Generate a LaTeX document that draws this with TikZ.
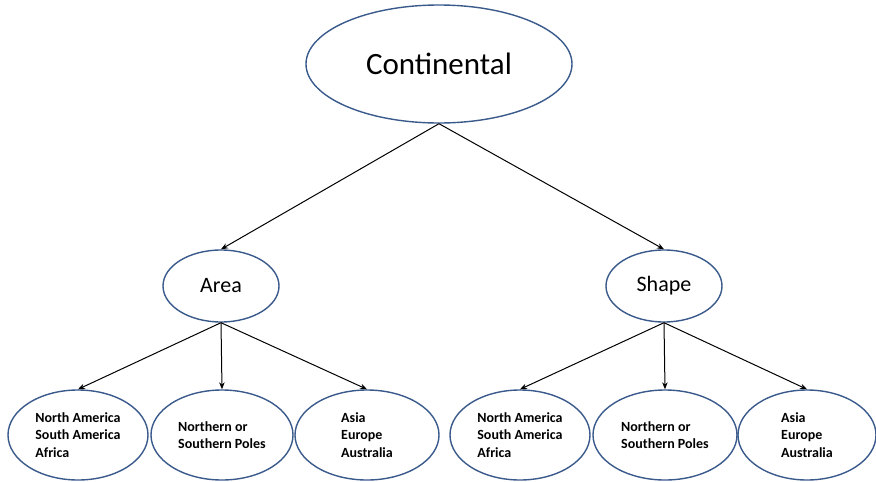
\documentclass[tikz,border=0pt]{standalone}
\usepackage{fontspec}
\setmainfont{Carlito}
\usetikzlibrary{shapes.geometric,arrows.meta}
\definecolor{rim}{HTML}{3A5A8C}
\tikzset{
  oval/.style={ellipse, draw=rim, line width=1.4pt, fill=white, inner sep=0pt},
  leaf/.style={oval, minimum width=140pt, minimum height=90pt,
               font=\fontsize{14}{17.5}\selectfont\bfseries, align=left},
  link/.style={draw=black, line width=1pt, -{Stealth[length=7pt,width=5.5pt]}}
}
\begin{document}
\begin{tikzpicture}[x=1pt,y=-1pt]
  \useasboundingbox (0,0) rectangle (876,482);
  % root
  \node[oval, minimum width=266pt, minimum height=118pt,
        font=\fontsize{31}{36}\selectfont] (root) at (439,64) {Continental};
  % second level
  \node[oval, minimum width=116pt, minimum height=72pt,
        font=\fontsize{22}{26}\selectfont] (area) at (221,286) {Area};
  \node[oval, minimum width=116pt, minimum height=72pt,
        font=\fontsize{22}{26}\selectfont] (shape) at (664,286) {Shape};
  % leaves under Area
  \node[leaf] (a1) at (78,435) {North America\\South America\\Africa};
  \node[leaf, minimum width=142pt] (a2) at (222,435) {Northern or\\Southern Poles};
  \node[leaf, minimum width=144pt] (a3) at (367,435) {Asia\\Europe\\Australia};
  % leaves under Shape
  \node[leaf] (s1) at (520,435) {North America\\South America\\Africa};
  \node[leaf, minimum width=144pt] (s2) at (665,435) {Northern or\\Southern Poles};
  \node[leaf, minimum width=138pt] (s3) at (807,435) {Asia\\Europe\\Australia};
  % connectors
  \draw[link] (root.south) -- (area.north);
  \draw[link] (root.south) -- (shape.north);
  \foreach \c in {a1,a2,a3} \draw[link] (area.south) -- (\c.north);
  \foreach \c in {s1,s2,s3} \draw[link] (shape.south) -- (\c.north);
\end{tikzpicture}
\end{document}
